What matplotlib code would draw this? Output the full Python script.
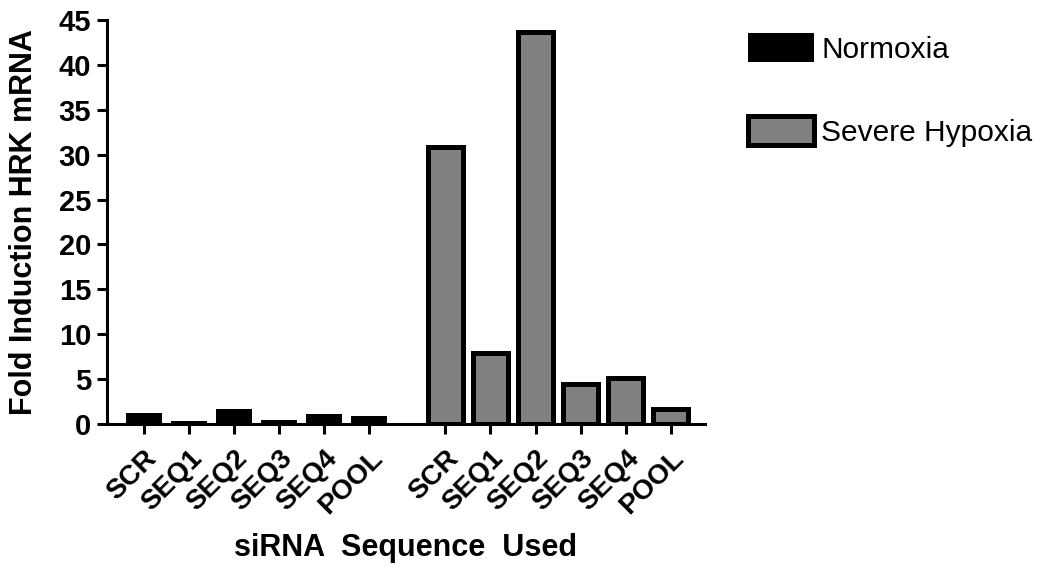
import matplotlib
matplotlib.use("Agg")
import matplotlib.pyplot as plt
from matplotlib.patches import Patch
import numpy as np

plt.rcParams['font.family'] = ['Liberation Sans', 'DejaVu Sans']

sequences = ["SCR", "SEQ1", "SEQ2", "SEQ3", "SEQ4", "POOL"]
normoxia = [1.2, 0.3, 1.7, 0.4, 1.1, 0.9]
severe_hypoxia = [30.9, 7.9, 43.7, 4.5, 5.1, 1.7]
group_gap = 6.69

x_norm = np.arange(len(sequences))
x_hyp = x_norm + group_gap

W, H = 1054, 571
fig = plt.figure(figsize=(W / 100, H / 100), dpi=100)
ax = fig.add_axes([107 / W, 1 - 424 / H, (705 - 107) / W, (424 - 20) / H])

ax.bar(x_norm, normoxia, width=0.8, color="black", edgecolor="black", linewidth=0)
ax.bar(x_hyp, severe_hypoxia, width=0.78, color="#808080", edgecolor="black", linewidth=3.6)

ax.set_xlim(-0.82, 12.45)
ax.set_ylim(0, 45)
ax.set_yticks(range(0, 46, 5))
ax.set_xticks(np.concatenate([x_norm, x_hyp]))
ax.set_xticklabels(sequences + sequences, rotation=45, ha="right", va="top",
                   rotation_mode="anchor", fontsize=20, fontweight="bold")
for lbl in ax.get_yticklabels():
    lbl.set_fontsize(21)
    lbl.set_fontweight("bold")

for side in ("top", "right"):
    ax.spines[side].set_visible(False)
for side in ("left", "bottom"):
    ax.spines[side].set_linewidth(2.2)
ax.tick_params(axis="both", width=2.2, length=7.5, direction="out")
ax.tick_params(axis="y", pad=4)
ax.tick_params(axis="x", pad=8)

ax.set_ylabel("Fold Induction HRK mRNA", fontsize=22, fontweight="bold", labelpad=14)
ax.set_xlabel("siRNA  Sequence  Used", fontsize=22, fontweight="bold", labelpad=10)

handles = [Patch(facecolor="black", edgecolor="black", linewidth=0),
           Patch(facecolor="#808080", edgecolor="black", linewidth=3.6)]
fig.legend(handles, ["Normoxia", "Severe Hypoxia"], loc="upper left",
           bbox_to_anchor=(748 / W, 1 - 33 / H), frameon=False, fontsize=21.5,
           borderpad=0, borderaxespad=0,
           handlelength=2.2, handleheight=1.12, handletextpad=0.25, labelspacing=1.75)

fig.savefig("out.png", dpi=100)
